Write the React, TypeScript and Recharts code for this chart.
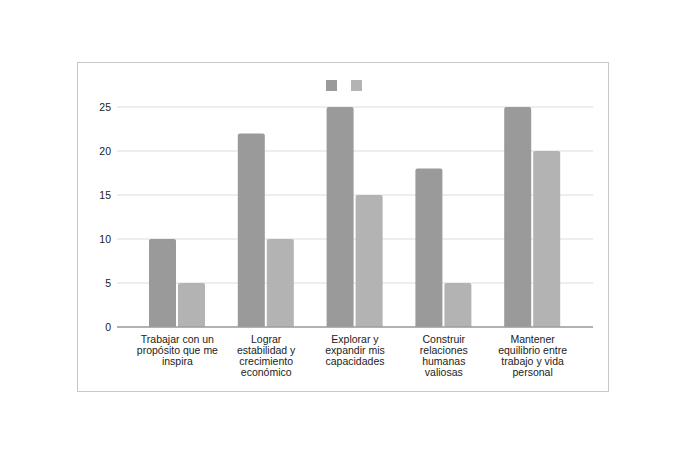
import { BarChart, Bar, XAxis, YAxis, CartesianGrid, Legend } from 'recharts';

// categorías (saltos de línea como en la imagen)
const categories = [
  'Trabajar con un\npropósito que me\ninspira',
  'Lograr\nestabilidad y\ncrecimiento\neconómico',
  'Explorar y\nexpandir mis\ncapacidades',
  'Construir\nrelaciones\nhumanas\nvaliosas',
  'Mantener\nequilibrio entre\ntrabajo y vida\npersonal',
];
const serieA = [10, 22, 25, 18, 25];
const serieB = [5, 10, 15, 5, 20];
const yTicks = [0, 5, 10, 15, 20, 25];

const data = categories.map((name, i) => ({ name, a: serieA[i], b: serieB[i] }));

const FONT = '"Liberation Sans", Arial, sans-serif';

function CategoryTick({ x, y, payload }: any) {
  const lines = String(payload.value).split('\n');
  return (
    <text x={x} y={y} textAnchor="middle" fill="#222" fontSize={10.5} fontFamily={FONT}>
      {lines.map((l, i) => (
        <tspan key={i} x={x} dy={i === 0 ? 16 : 11}>
          {l}
        </tspan>
      ))}
    </text>
  );
}

function SquaresLegend({ payload }: any) {
  return (
    <div style={{ display: 'flex', gap: 14 }}>
      {(payload || []).map((p: any) => (
        <div key={p.dataKey} style={{ width: 11, height: 11, background: p.color }} />
      ))}
    </div>
  );
}

export default function App() {
  return (
    <div style={{ position: 'absolute', left: 0, top: 0, width: 688, height: 460, background: '#fff' }}>
      <div
        style={{
          position: 'absolute',
          left: 77,
          top: 62,
          width: 532,
          height: 330,
          border: '1px solid #c8c8c8',
          boxSizing: 'border-box',
        }}
      />
      <div style={{ position: 'absolute', left: 0, top: 0 }}>
        <BarChart
          width={688}
          height={460}
          data={data}
          margin={{ top: 107, right: 95, bottom: 103, left: 77 }}
          barSize={27}
          barGap={2}
        >
          <CartesianGrid vertical={false} stroke="#dcdcdc" />
          <XAxis
            dataKey="name"
            interval={0}
            height={30}
            padding={{ left: 16, right: 16 }}
            tickLine={false}
            tickSize={0}
            tickMargin={0}
            axisLine={{ stroke: '#9e9e9e', strokeWidth: 1.5 }}
            tick={<CategoryTick />}
          />
          <YAxis
            width={40}
            domain={[0, 25]}
            ticks={yTicks}
            axisLine={false}
            tickLine={false}
            tickSize={0}
            tickMargin={6}
            tick={{ fill: '#222', fontSize: 10.5, fontFamily: FONT }}
          />
          <Legend
            verticalAlign="middle"
            align="center"
            content={<SquaresLegend />}
            wrapperStyle={{ top: 80, left: 326, width: 'auto' }}
          />
          <Bar dataKey="a" fill="#9a9a9a" radius={[2, 2, 0, 0]} isAnimationActive={false} />
          <Bar dataKey="b" fill="#b3b3b3" radius={[2, 2, 0, 0]} isAnimationActive={false} />
        </BarChart>
      </div>
    </div>
  );
}
